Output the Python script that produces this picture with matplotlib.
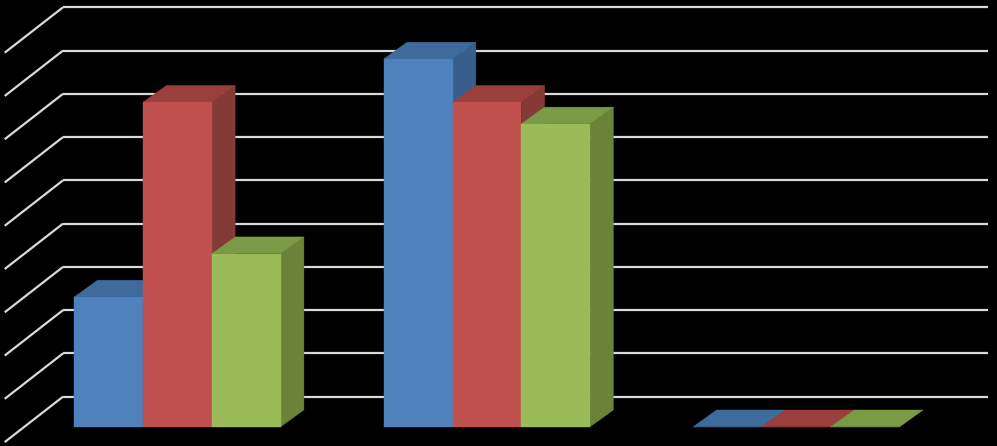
import numpy as np
import matplotlib
matplotlib.use("Agg")
import matplotlib.pyplot as plt
from matplotlib.patches import Polygon

# Datos (3 categorías, 3 series)
categorias = ["A", "B", "C"]
serie_azul = [3.0, 8.5, 0.0]
serie_roja = [7.5, 7.5, 0.0]
serie_verde = [4.0, 7.0, 0.0]
valores_eje = list(range(0, 10))

series = [serie_azul, serie_roja, serie_verde]
# colores: frente, arriba, costado
colores = [
    ("#4f81bd", "#3f6a9c", "#375e8c"),
    ("#c0504d", "#9a3f3c", "#843a37"),
    ("#9bbb59", "#7a9a45", "#6b8239"),
]

ancho = 1 / 4.5          # ancho de barra (gap 150%)
margen = 0.75 * ancho

# desplazamientos oblicuos (en unidades de datos)
px_cat = 928.5 / 3
px_val = 43.27
frente_dx, frente_dy = -40.3 / px_cat, -30.0 / px_val
fondo_dx, fondo_dy = -17.0 / px_cat, -13.3 / px_val
diag_dx, diag_dy = -58.3 / px_cat, -45.4 / px_val

fig = plt.figure(figsize=(9.97, 4.46), dpi=100, facecolor="black")
ax = fig.add_axes([63 / 997, 49.3 / 446, 928.5 / 997, 389.4 / 446])
ax.set_facecolor("black")
ax.set_xlim(0, 3)
ax.set_ylim(0, 9)
ax.axis("off")

# Grilla: líneas horizontales en la pared y diagonales en el costado
for v in valores_eje:
    ax.plot([0, 2.99], [v, v], color="#d9d9d9", lw=1.6, zorder=1, clip_on=False,
            solid_capstyle="butt")
    ax.plot([0, diag_dx], [v, v + diag_dy], color="#d9d9d9", lw=1.6, zorder=1,
            clip_on=False, solid_capstyle="butt")

# Barras 3D
for i in range(len(categorias)):
    for j, serie in enumerate(series):
        h = serie[i]
        x0 = i + margen + j * ancho
        x1 = x0 + ancho
        cf, ct, cs = colores[j]
        z = 2 + i * 3 + j
        # frente
        frente = [(x0 + frente_dx, frente_dy), (x1 + frente_dx, frente_dy),
                  (x1 + frente_dx, h + frente_dy), (x0 + frente_dx, h + frente_dy)]
        # arriba
        arriba = [(x0 + frente_dx, h + frente_dy), (x1 + frente_dx, h + frente_dy),
                  (x1 + fondo_dx, h + fondo_dy), (x0 + fondo_dx, h + fondo_dy)]
        # costado
        costado = [(x1 + frente_dx, frente_dy), (x1 + fondo_dx, fondo_dy),
                   (x1 + fondo_dx, h + fondo_dy), (x1 + frente_dx, h + frente_dy)]
        for pts, c in [(costado, cs), (arriba, ct), (frente, cf)]:
            ax.add_patch(Polygon(pts, closed=True, facecolor=c, edgecolor=c,
                                 lw=0.3, zorder=z, clip_on=False))

fig.savefig("out.png", dpi=100, facecolor="black")
